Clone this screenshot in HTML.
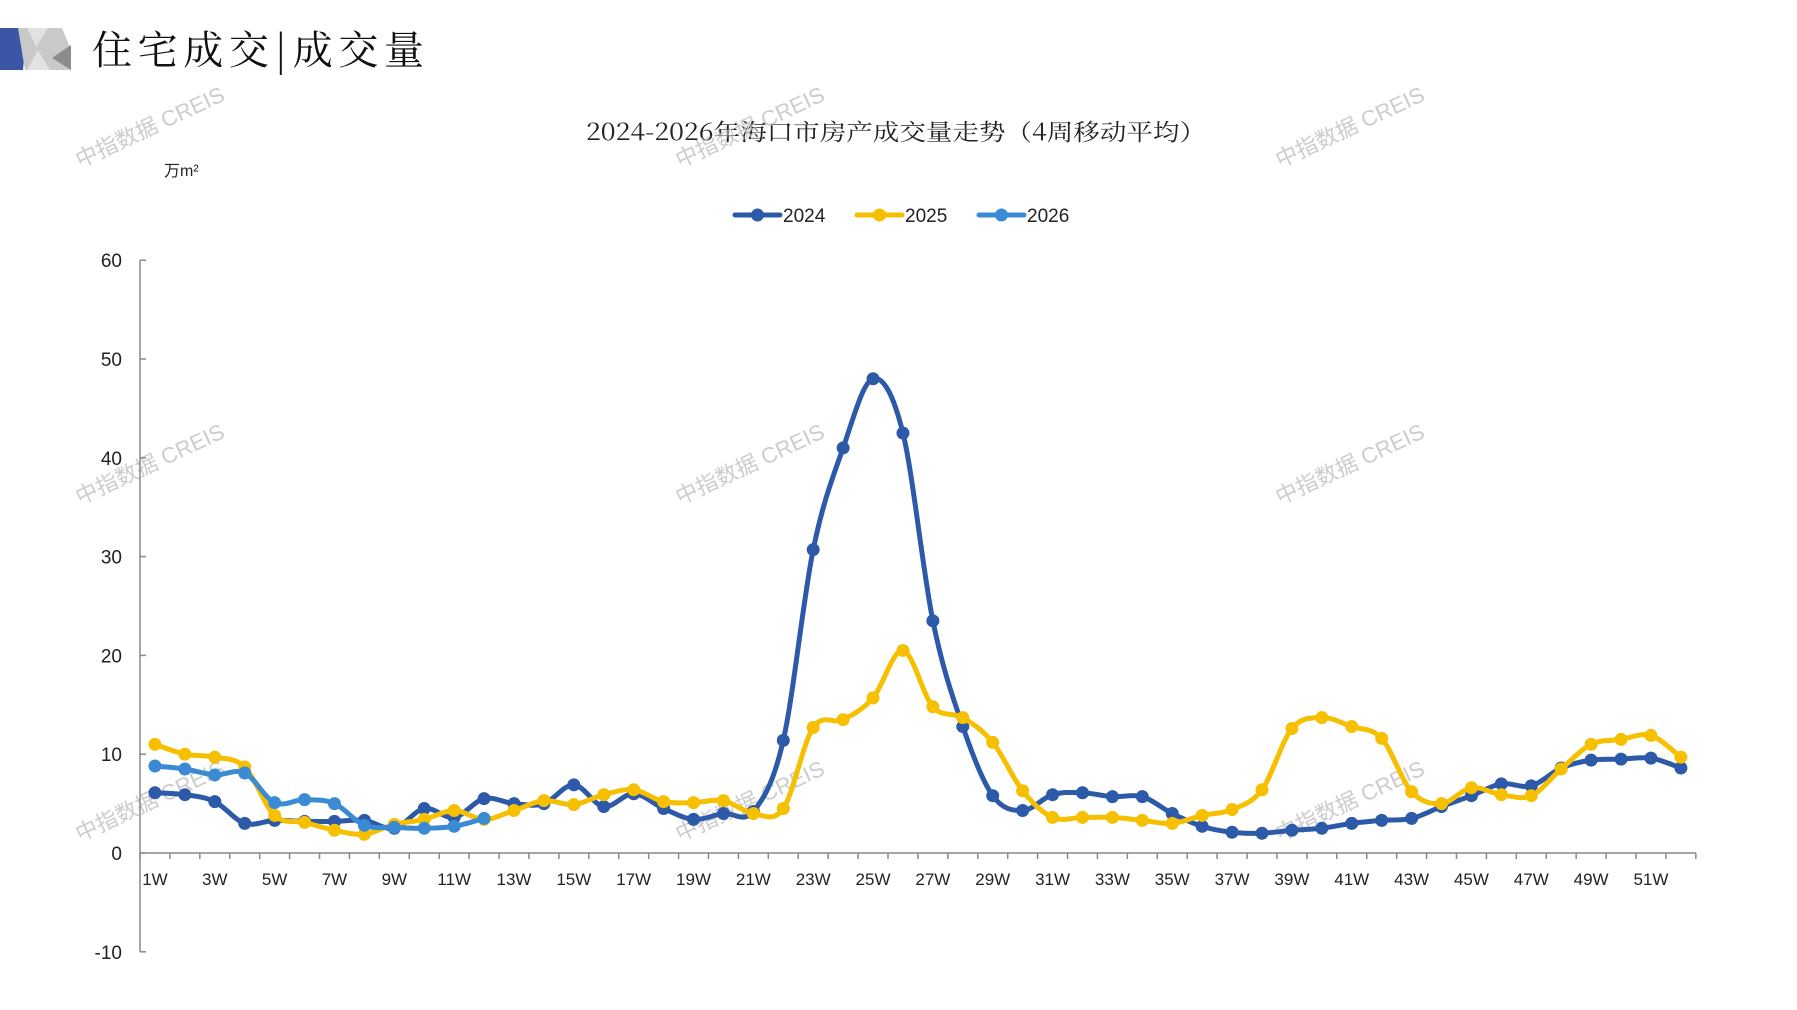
<!DOCTYPE html>
<html><head><meta charset="utf-8">
<style>
html,body{margin:0;padding:0;background:#fff;}
svg{display:block;}
text{font-family:"Liberation Sans","Noto Sans CJK SC",sans-serif;}
</style></head>
<body>
<svg id="s" width="1797" height="1010" viewBox="0 0 1797 1010" xmlns="http://www.w3.org/2000/svg">
<polygon points="0,28 27,28 23,70 0,70" fill="#3a56a5"/>
<polygon points="18,28 62,28 71,50 71,70 60,70 25,70" fill="#c9c9c9"/>
<polygon points="27,28 38,50 27,70 50,70 36,47 48,28" fill="#e2e2e2"/>
<polygon points="71,45 71,70 52,58" fill="#8c8c8c"/>
<text x="92" y="64" font-size="40" style="font-family:'Noto Serif CJK SC',serif" fill="#111" textLength="332" lengthAdjust="spacing">住宅成交|成交量</text>
<text x="586" y="140" font-size="23" fill="#222" textLength="620" lengthAdjust="spacingAndGlyphs" style="font-family:'Noto Serif CJK SC',serif">2024-2026年海口市房产成交量走势（4周移动平均）</text>
<text x="164" y="176" font-size="16" fill="#222" style="font-family:'Liberation Sans','Noto Sans CJK SC',sans-serif">万m²</text>
<g id="wm" fill="#bbb" font-size="22" opacity="0.75"></g>
<g id="chart"></g>
</svg>
<script>
const NS="http://www.w3.org/2000/svg";
function el(t,a,p){const e=document.createElementNS(NS,t);for(const k in a)e.setAttribute(k,a[k]);(p||document.getElementById('chart')).appendChild(e);return e;}
const X0=140,DX=29.92,Y0=853,DY=9.88;
const xp=i=>X0+DX*(i+0.5), yp=v=>Y0-v*DY;
el('line',{x1:X0,y1:yp(60),x2:X0,y2:yp(-10),stroke:'#888','stroke-width':1.5});
for(let v=-10;v<=60;v+=10){el('line',{x1:X0,y1:yp(v),x2:X0+6,y2:yp(v),stroke:'#888','stroke-width':1.5});
 const t=el('text',{x:122,y:yp(v)+7,'font-size':19,'text-anchor':'end',fill:'#222'});t.textContent=v;}
el('line',{x1:X0,y1:Y0,x2:X0+52*DX,y2:Y0,stroke:'#888','stroke-width':1.5});
for(let i=0;i<=52;i++)el('line',{x1:X0+i*DX,y1:Y0,x2:X0+i*DX,y2:Y0+6,stroke:'#888','stroke-width':1.5});
for(let i=0;i<52;i+=2){const t=el('text',{x:xp(i),y:885,'font-size':17,'text-anchor':'middle',fill:'#222'});t.textContent=(i+1)+'W';}
const d24=[6.1,5.9,5.2,3.0,3.3,3.2,3.2,3.3,2.5,4.5,3.6,5.5,5.0,5.0,6.9,4.7,6.0,4.5,3.4,4.0,4.2,11.4,30.7,41,48,42.5,23.5,12.8,5.8,4.3,5.9,6.1,5.7,5.7,4.0,2.7,2.1,2.0,2.3,2.5,3.0,3.3,3.5,4.7,5.8,7.0,6.8,8.6,9.4,9.5,9.6,8.6];
const d25=[11.0,10.0,9.7,8.7,3.8,3.1,2.3,1.9,2.9,3.4,4.3,3.4,4.3,5.3,4.9,5.9,6.4,5.2,5.1,5.3,4.0,4.5,12.7,13.5,15.7,20.5,14.8,13.7,11.2,6.3,3.6,3.6,3.6,3.3,3.0,3.8,4.4,6.4,12.6,13.7,12.8,11.6,6.2,5.0,6.6,5.9,5.8,8.5,11.0,11.5,11.9,9.7];
const d26=[8.8,8.5,7.9,8.1,5.1,5.4,5.0,2.8,2.6,2.5,2.7,3.5];
function series(d,c){
 const p=d.map((v,i)=>[xp(i),yp(v)]);
 let s='M'+p[0].join(',');
 for(let i=0;i<p.length-1;i++){const a=p[Math.max(0,i-1)],b=p[i],c2=p[i+1],e=p[Math.min(p.length-1,i+2)];const t=1/6;
  s+=` C${b[0]+(c2[0]-a[0])*t},${b[1]+(c2[1]-a[1])*t} ${c2[0]-(e[0]-b[0])*t},${c2[1]-(e[1]-b[1])*t} ${c2[0]},${c2[1]}`;}
 el('path',{d:s,fill:'none',stroke:c,'stroke-width':5,'stroke-linejoin':'round'});
 p.forEach(q=>el('circle',{cx:q[0],cy:q[1],r:6.5,fill:c}));
}
series(d24,'#2d5aa8');series(d25,'#f6bf00');series(d26,'#3b8bd4');
[['2024','#2d5aa8',735],['2025','#f6bf00',857],['2026','#3b8bd4',979]].forEach(([n,c,x])=>{
 el('line',{x1:x,y1:215,x2:x+45,y2:215,stroke:c,'stroke-width':5,'stroke-linecap':'round'});
 el('circle',{cx:x+22.5,cy:215,r:6.5,fill:c});
 const t=el('text',{x:x+48,y:222,'font-size':19,fill:'#222'});t.textContent=n;});
const wm=document.getElementById('wm');
[[80,168],[680,168],[1280,168],[80,505],[680,505],[1280,505],[80,842],[680,842],[1280,842]].forEach(([x,y])=>{
 const t=el('text',{x:x,y:y,transform:`rotate(-25 ${x} ${y})`},wm);t.textContent='中指数据 CREIS';});
</script>
</body></html>
